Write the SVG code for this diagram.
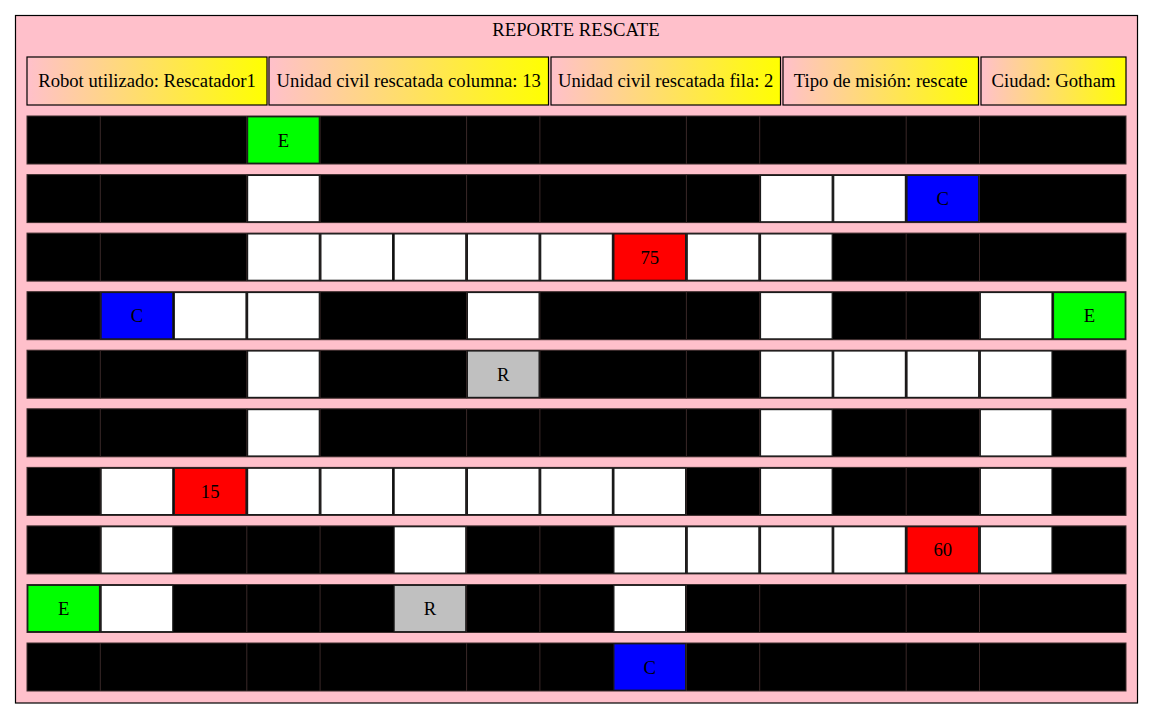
<svg xmlns="http://www.w3.org/2000/svg" width="1153" height="719" viewBox="0 0 1153 719">
<defs>
<linearGradient id="hg" x1="0" y1="0" x2="1" y2="0">
<stop offset="0" stop-color="#ffc0cb"/>
<stop offset="1" stop-color="#ffff00"/>
</linearGradient>
</defs>
<style>
text{font-family:"Liberation Serif","Times New Roman",serif;font-size:18.67px;fill:#000;text-anchor:middle}
.hd{fill:url(#hg);stroke:#000;stroke-width:1.2}
.row{fill:#000;stroke:#3c2c2c;stroke-width:1}
.sep{stroke:#3a2828;stroke-width:1;fill:none}
.c{stroke:#1a1a1a;stroke-width:1.2}
.w{fill:#fff}.g{fill:#00ff00}.b{fill:#0000ff}.r{fill:#ff0000}.s{fill:#c0c0c0}
</style>
<rect x="0" y="0" width="1153" height="719" fill="#fff"/>
<g id="reporte">
<rect x="15.5" y="15.5" width="1122" height="687.5" fill="#ffc0cb" stroke="#000" stroke-width="1.2"/>
<text x="576" y="36">REPORTE RESCATE</text>
</g>
<g id="header">
<rect class="hd" x="27" y="57" width="240" height="48"/>
<text x="147" y="87">Robot utilizado: Rescatador1</text>
<rect class="hd" x="269" y="57" width="279.5" height="48"/>
<text x="408.7" y="87">Unidad civil rescatada columna: 13</text>
<rect class="hd" x="551" y="57" width="229.5" height="48"/>
<text x="665.7" y="87">Unidad civil rescatada fila: 2</text>
<rect class="hd" x="783" y="57" width="195.5" height="48"/>
<text x="880.7" y="87">Tipo de misión: rescate</text>
<rect class="hd" x="981" y="57" width="145" height="48"/>
<text x="1053.5" y="87">Ciudad: Gotham</text>
</g>
<g id="grid">
<g id="row0" transform="translate(0,116)">
<rect class="row" x="27" y="0" width="1099" height="48"/>
<path class="sep" d="M100.3 0V48M246.8 0V48M320.1 0V48M466.6 0V48M539.9 0V48M686.4 0V48M759.7 0V48M906.2 0V48M979.5 0V48"/>
<rect class="c g" x="247.6" y="0.8" width="71.7" height="46.4"/><text x="283.4" y="30.5">E</text>
</g>
<g id="row1" transform="translate(0,174.6)">
<rect class="row" x="27" y="0" width="1099" height="48"/>
<path class="sep" d="M100.3 0V48M246.8 0V48M320.1 0V48M466.6 0V48M539.9 0V48M686.4 0V48M759.7 0V48M906.2 0V48M979.5 0V48"/>
<rect class="c w" x="247.6" y="0.8" width="71.7" height="46.4"/>
<rect class="c w" x="760.5" y="0.8" width="71.7" height="46.4"/>
<rect class="c w" x="833.7" y="0.8" width="71.7" height="46.4"/>
<rect class="c b" x="907" y="0.8" width="71.7" height="46.4"/><text x="942.8" y="30.5">C</text>
</g>
<g id="row2" transform="translate(0,233.1)">
<rect class="row" x="27" y="0" width="1099" height="48"/>
<path class="sep" d="M100.3 0V48M246.8 0V48M320.1 0V48M466.6 0V48M539.9 0V48M686.4 0V48M759.7 0V48M906.2 0V48M979.5 0V48"/>
<rect class="c w" x="247.6" y="0.8" width="71.7" height="46.4"/>
<rect class="c w" x="320.9" y="0.8" width="71.7" height="46.4"/>
<rect class="c w" x="394.1" y="0.8" width="71.7" height="46.4"/>
<rect class="c w" x="467.4" y="0.8" width="71.7" height="46.4"/>
<rect class="c w" x="540.7" y="0.8" width="71.7" height="46.4"/>
<rect class="c r" x="613.9" y="0.8" width="71.7" height="46.4"/><text x="649.8" y="30.5">75</text>
<rect class="c w" x="687.2" y="0.8" width="71.7" height="46.4"/>
<rect class="c w" x="760.5" y="0.8" width="71.7" height="46.4"/>
</g>
<g id="row3" transform="translate(0,291.7)">
<rect class="row" x="27" y="0" width="1099" height="48"/>
<path class="sep" d="M100.3 0V48M246.8 0V48M320.1 0V48M466.6 0V48M539.9 0V48M686.4 0V48M759.7 0V48M906.2 0V48M979.5 0V48"/>
<rect class="c b" x="101.1" y="0.8" width="71.7" height="46.4"/><text x="136.9" y="30.5">C</text>
<rect class="c w" x="174.3" y="0.8" width="71.7" height="46.4"/>
<rect class="c w" x="247.6" y="0.8" width="71.7" height="46.4"/>
<rect class="c w" x="467.4" y="0.8" width="71.7" height="46.4"/>
<rect class="c w" x="760.5" y="0.8" width="71.7" height="46.4"/>
<rect class="c w" x="980.3" y="0.8" width="71.7" height="46.4"/>
<rect class="c g" x="1053.5" y="0.8" width="71.7" height="46.4"/><text x="1089.4" y="30.5">E</text>
</g>
<g id="row4" transform="translate(0,350.2)">
<rect class="row" x="27" y="0" width="1099" height="48"/>
<path class="sep" d="M100.3 0V48M246.8 0V48M320.1 0V48M466.6 0V48M539.9 0V48M686.4 0V48M759.7 0V48M906.2 0V48M979.5 0V48"/>
<rect class="c w" x="247.6" y="0.8" width="71.7" height="46.4"/>
<rect class="c s" x="467.4" y="0.8" width="71.7" height="46.4"/><text x="503.2" y="30.5">R</text>
<rect class="c w" x="760.5" y="0.8" width="71.7" height="46.4"/>
<rect class="c w" x="833.7" y="0.8" width="71.7" height="46.4"/>
<rect class="c w" x="907" y="0.8" width="71.7" height="46.4"/>
<rect class="c w" x="980.3" y="0.8" width="71.7" height="46.4"/>
</g>
<g id="row5" transform="translate(0,408.8)">
<rect class="row" x="27" y="0" width="1099" height="48"/>
<path class="sep" d="M100.3 0V48M246.8 0V48M320.1 0V48M466.6 0V48M539.9 0V48M686.4 0V48M759.7 0V48M906.2 0V48M979.5 0V48"/>
<rect class="c w" x="247.6" y="0.8" width="71.7" height="46.4"/>
<rect class="c w" x="760.5" y="0.8" width="71.7" height="46.4"/>
<rect class="c w" x="980.3" y="0.8" width="71.7" height="46.4"/>
</g>
<g id="row6" transform="translate(0,467.4)">
<rect class="row" x="27" y="0" width="1099" height="48"/>
<path class="sep" d="M100.3 0V48M246.8 0V48M320.1 0V48M466.6 0V48M539.9 0V48M686.4 0V48M759.7 0V48M906.2 0V48M979.5 0V48"/>
<rect class="c w" x="101.1" y="0.8" width="71.7" height="46.4"/>
<rect class="c r" x="174.3" y="0.8" width="71.7" height="46.4"/><text x="210.2" y="30.5">15</text>
<rect class="c w" x="247.6" y="0.8" width="71.7" height="46.4"/>
<rect class="c w" x="320.9" y="0.8" width="71.7" height="46.4"/>
<rect class="c w" x="394.1" y="0.8" width="71.7" height="46.4"/>
<rect class="c w" x="467.4" y="0.8" width="71.7" height="46.4"/>
<rect class="c w" x="540.7" y="0.8" width="71.7" height="46.4"/>
<rect class="c w" x="613.9" y="0.8" width="71.7" height="46.4"/>
<rect class="c w" x="760.5" y="0.8" width="71.7" height="46.4"/>
<rect class="c w" x="980.3" y="0.8" width="71.7" height="46.4"/>
</g>
<g id="row7" transform="translate(0,525.9)">
<rect class="row" x="27" y="0" width="1099" height="48"/>
<path class="sep" d="M100.3 0V48M246.8 0V48M320.1 0V48M466.6 0V48M539.9 0V48M686.4 0V48M759.7 0V48M906.2 0V48M979.5 0V48"/>
<rect class="c w" x="101.1" y="0.8" width="71.7" height="46.4"/>
<rect class="c w" x="394.1" y="0.8" width="71.7" height="46.4"/>
<rect class="c w" x="613.9" y="0.8" width="71.7" height="46.4"/>
<rect class="c w" x="687.2" y="0.8" width="71.7" height="46.4"/>
<rect class="c w" x="760.5" y="0.8" width="71.7" height="46.4"/>
<rect class="c w" x="833.7" y="0.8" width="71.7" height="46.4"/>
<rect class="c r" x="907" y="0.8" width="71.7" height="46.4"/><text x="942.8" y="30.5">60</text>
<rect class="c w" x="980.3" y="0.8" width="71.7" height="46.4"/>
</g>
<g id="row8" transform="translate(0,584.5)">
<rect class="row" x="27" y="0" width="1099" height="48"/>
<path class="sep" d="M100.3 0V48M246.8 0V48M320.1 0V48M466.6 0V48M539.9 0V48M686.4 0V48M759.7 0V48M906.2 0V48M979.5 0V48"/>
<rect class="c g" x="27.8" y="0.8" width="71.7" height="46.4"/><text x="63.6" y="30.5">E</text>
<rect class="c w" x="101.1" y="0.8" width="71.7" height="46.4"/>
<rect class="c s" x="394.1" y="0.8" width="71.7" height="46.4"/><text x="430" y="30.5">R</text>
<rect class="c w" x="613.9" y="0.8" width="71.7" height="46.4"/>
</g>
<g id="row9" transform="translate(0,643)">
<rect class="row" x="27" y="0" width="1099" height="48"/>
<path class="sep" d="M100.3 0V48M246.8 0V48M320.1 0V48M466.6 0V48M539.9 0V48M686.4 0V48M759.7 0V48M906.2 0V48M979.5 0V48"/>
<rect class="c b" x="613.9" y="0.8" width="71.7" height="46.4"/><text x="649.8" y="30.5">C</text>
</g>
</g>
<g id="connectors"/>
</svg>
